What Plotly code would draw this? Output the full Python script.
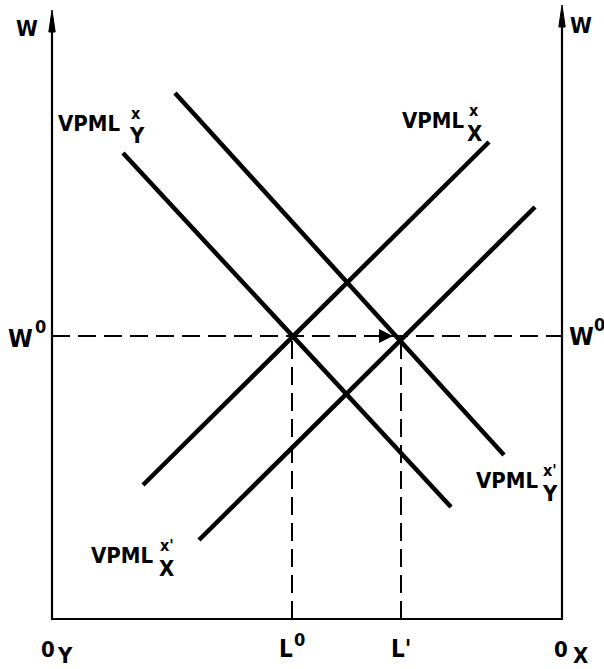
import plotly.graph_objects as go

# ---- data (diagram units: origin at O_Y, x to the right, y up) ----
curve_names = ["VPML_Y^x", "VPML_Y^x'", "VPML_X^x", "VPML_X^x'"]
x_start = [71, 123, 91, 147]
y_start = [466, 526, 134, 79]
x_end = [399, 452, 437, 483]
y_end = [112, 164, 477, 412]

W0 = 283          # equilibrium wage level
L0 = 240          # initial labour allocation
L1 = 349          # new labour allocation
X_MAX = 510       # width of the box (O_Y to O_X)
Y_TOP_LEFT = 609
Y_TOP_RIGHT = 614

FONT = "DejaVu Sans Condensed, DejaVu Sans"
fig = go.Figure()

# demand curves
for i, name in enumerate(curve_names):
    fig.add_trace(go.Scatter(x=[x_start[i], x_end[i]], y=[y_start[i], y_end[i]],
                             mode="lines", line=dict(color="black", width=4.5),
                             name=name, showlegend=False, hoverinfo="skip"))

# box axes
fig.add_trace(go.Scatter(x=[0, 0, X_MAX, X_MAX], y=[Y_TOP_LEFT - 10, 0, 0, Y_TOP_RIGHT - 10],
                         mode="lines", line=dict(color="black", width=2.2),
                         showlegend=False, hoverinfo="skip"))
# axis arrowheads (narrow filled triangles)
for ax_x, top in [(0, Y_TOP_LEFT), (X_MAX, Y_TOP_RIGHT)]:
    fig.add_trace(go.Scatter(x=[ax_x - 3.2, ax_x, ax_x + 3.2, ax_x - 3.2],
                             y=[top - 22, top, top - 22, top - 22],
                             mode="lines", fill="toself", fillcolor="black",
                             line=dict(color="black", width=1),
                             showlegend=False, hoverinfo="skip"))
# dashed guides
fig.add_trace(go.Scatter(x=[0, X_MAX], y=[W0, W0], mode="lines",
                         line=dict(color="black", width=2, dash="18px,8px"),
                         showlegend=False, hoverinfo="skip"))
for lx in [L0, L1]:
    fig.add_trace(go.Scatter(x=[lx, lx], y=[0, W0], mode="lines",
                             line=dict(color="black", width=2, dash="18px,8px"),
                             showlegend=False, hoverinfo="skip"))

ann = []
# arrow on W0 line
ann.append(dict(x=L1 - 8, y=W0, ax=L1 - 20, ay=W0, xref="x", yref="y",
                axref="x", ayref="y", showarrow=True, arrowhead=2,
                arrowsize=1.4, arrowwidth=2, arrowcolor="black", text=""))


def txt(x, y, s, size=22):
    ann.append(dict(x=x, y=y, xref="x", yref="y", text="<b>" + s + "</b>",
                    showarrow=False,
                    font=dict(family=FONT, size=size, color="black"),
                    xanchor="center", yanchor="middle"))


# W labels
txt(-25, 591, "W", 22)
txt(529, 594, "W", 22)
txt(-32, 281, "W", 25)
txt(-12, 293, "0", 18)
txt(529, 283, "W", 25)
txt(547, 295, "0", 18)

# curve labels
txt(37, 496, "VPML")
txt(84, 506, "x", 16)
txt(85, 484, "Y")
txt(381, 499, "VPML")
txt(422, 509, "x", 16)
txt(422, 486, "X")
txt(455, 139, "VPML")
txt(498, 149, "x'", 16)
txt(498, 126, "Y")
txt(70, 64, "VPML")
txt(115, 74, "x'", 16)
txt(114, 51, "X")

# bottom labels
txt(-4, -30, "0", 22)
txt(13, -36, "Y", 22)
txt(234, -30, "L", 24)
txt(247, -20, "0", 18)
txt(349, -30, "L'", 24)
txt(509, -30, "0", 22)
txt(528, -36, "X", 22)

fig.update_layout(
    width=604, height=669,
    margin=dict(l=0, r=0, t=0, b=0, pad=0),
    paper_bgcolor="white", plot_bgcolor="white",
    xaxis=dict(range=[-52, 552], visible=False, fixedrange=True),
    yaxis=dict(range=[-50, 619], visible=False, fixedrange=True),
    annotations=ann,
    showlegend=False,
)
fig.write_html("out.html", config={"displayModeBar": False},
               post_script="document.body.style.margin='0';")
